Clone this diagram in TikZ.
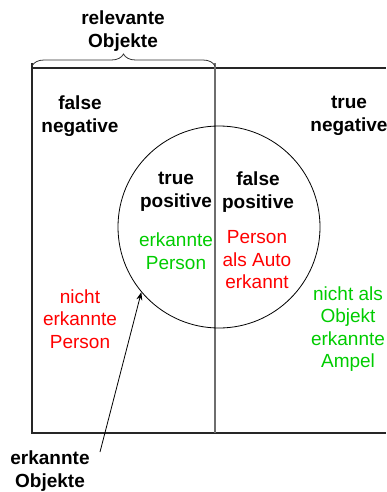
\documentclass[tikz,border=0pt]{standalone}
\usepackage{fontspec}
\setmainfont{Liberation Sans}
\usetikzlibrary{decorations.pathreplacing,arrows.meta}
\definecolor{tred}{RGB}{255,0,0}
\definecolor{tgreen}{RGB}{0,204,0}
\definecolor{divgray}{RGB}{110,110,110}
\tikzset{
  lbl/.style={align=center, inner sep=1pt, font=\fontsize{19}{22.5}\selectfont},
  hdr/.style={lbl, font=\fontsize{19}{22.5}\selectfont\bfseries},
  redtxt/.style={lbl, text=tred},
  greentxt/.style={lbl, text=tgreen},
  frame/.style={line width=1.2pt, draw=black!85},
}
\begin{document}
\begin{tikzpicture}[x=1pt,y=-1pt]
\useasboundingbox (0,0) rectangle (386,492);
% frame
\draw[frame] (32,63) -- (32,433) -- (386,433);
\draw[frame] (32,68) -- (386,68);
\draw[line width=1.5pt, divgray] (215,63) -- (215,433);
% circle
\node[draw, circle, line width=0.8pt, minimum size=202pt, inner sep=0pt] (c) at (219,227) {};
% brace
\draw[decorate, decoration={brace, amplitude=12pt}, line width=0.8pt, black!80] (32,66) -- (215,66);
% texts
\node[hdr] (rel) at (123,31) {relevante\\Objekte};
\node[hdr] (fn) at (80,116) {false\\negative};
\node[hdr] (tn) at (349,116) {true\\negative};
\node[hdr] (tp) at (176,192) {true\\positive};
\node[hdr] (fp) at (258,192) {false\\positive};
\node[greentxt] (ep) at (176,251) {erkannte\\Person};
\node[redtxt] (pa) at (257,260) {Person\\als Auto\\erkannt};
\node[redtxt] (nep) at (80,319) {nicht\\erkannte\\Person};
\node[greentxt] (na) at (348,329) {nicht als\\Objekt\\erkannte\\Ampel};
\node[hdr] (eo) at (50,471) {erkannte\\Objekte};
\coordinate (tail) at (100,452);
\draw[-{Stealth[length=8pt,width=6pt]}, line width=0.8pt] (tail) -- (c.220.6);
\end{tikzpicture}
\end{document}
